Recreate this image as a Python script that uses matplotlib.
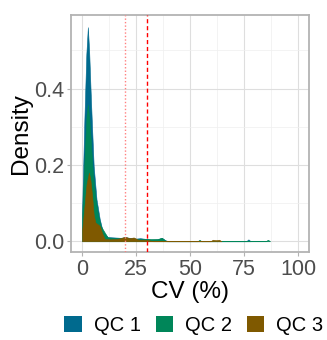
import matplotlib
matplotlib.use("Agg")
import matplotlib.pyplot as plt
from matplotlib.patches import Patch
from matplotlib.ticker import MultipleLocator

# ---- data ----
qc1_x = [0.2, 1.2, 2.1, 2.8, 3.4, 4.0, 4.6, 5.5, 6.8, 8.3, 9.8, 12, 15, 18, 20, 22, 25, 27, 30, 32, 35, 37, 38.5, 40,
         76, 77, 78]
qc1_y = [0.092, 0.319, 0.49, 0.561, 0.50, 0.406, 0.319, 0.197, 0.11, 0.058, 0.023, 0.011, 0.010, 0.009, 0.011, 0.009,
         0.007, 0.008, 0.006, 0.004, 0.005, 0.009, 0.003, 0.0,
         0.0, 0.005, 0.0]
qc2_x = [0.2, 1.4, 2.2, 2.8, 3.5, 4.2, 4.9, 5.6, 6.4, 7.5, 8.8, 10.6, 12, 15, 20, 25, 30, 35, 37, 39,
         53.5, 54.4, 55.3, 85, 86, 87]
qc2_y = [0.07, 0.232, 0.33, 0.358, 0.32, 0.26, 0.197, 0.15, 0.11, 0.07, 0.04, 0.023, 0.010, 0.008, 0.008, 0.005,
         0.006, 0.006, 0.009, 0.0,
         0.0, 0.004, 0.0, 0.0, 0.004, 0.0]
qc3_x = [0.2, 1.2, 2.2, 3.3, 4.0, 4.8, 5.5, 6.3, 7.5, 8.3, 9.5, 10.6, 13, 16, 18, 20, 22, 24, 26, 30, 33,
         59.5, 60.5, 62, 63.5, 64.5]
qc3_y = [0.03, 0.09, 0.15, 0.18, 0.16, 0.118, 0.07, 0.049, 0.044, 0.04, 0.02, 0.006, 0.005, 0.006, 0.008, 0.012,
         0.008, 0.010, 0.004, 0.004, 0.0,
         0.0, 0.004, 0.003, 0.004, 0.0]
labels = ["QC 1", "QC 2", "QC 3"]
colors = ["#006A8E", "#008659", "#7F5900"]
thresholds = [20, 30]

plt.rcParams['font.family'] = ['Liberation Sans', 'DejaVu Sans']

fig = plt.figure(figsize=(3.27, 3.40), dpi=100)
ax = fig.add_axes([0.217, 0.259, 0.728, 0.697])

for xs, ys, c in zip([qc1_x, qc2_x, qc3_x], [qc1_y, qc2_y, qc3_y], colors):
    ax.fill_between(xs, 0, ys, color=c, lw=0.4, edgecolor=c, zorder=3)

ax.axvline(thresholds[0], color="#FF8080", ls=(0, (1, 1.5)), lw=1.0, zorder=4)
ax.axvline(thresholds[1], color="#FF0000", ls=(0, (3, 2)), lw=1.0, zorder=4)

ax.set_xlim(-5, 105)
ax.set_ylim(-0.028, 0.593)
ax.set_xticks([0, 25, 50, 75, 100])
ax.set_yticks([0.0, 0.2, 0.4])
ax.set_yticklabels(["0.0", "0.2", "0.4"])
ax.xaxis.set_minor_locator(MultipleLocator(12.5))
ax.yaxis.set_minor_locator(MultipleLocator(0.1))
ax.grid(True, which="major", color="#DEDEDE", lw=0.8, zorder=0)
ax.grid(True, which="minor", color="#EFEFEF", lw=0.5, zorder=0)
ax.set_axisbelow(True)
for s in ax.spines.values():
    s.set_color("#B3B3B3")
    s.set_linewidth(1.3)
ax.tick_params(which="major", length=3, color="#B3B3B3", labelsize=15.5, labelcolor="#4D4D4D", pad=2)
ax.tick_params(which="minor", length=0)
ax.set_xlabel("CV (%)", fontsize=17.5, labelpad=1)
ax.set_ylabel("Density", fontsize=17.5, labelpad=1)

handles = [Patch(facecolor=c, edgecolor="none") for c in colors]
fig.legend(handles, labels, loc="center", bbox_to_anchor=(0.593, 0.043), ncol=3, frameon=False,
           fontsize=14.5, handlelength=0.85, handleheight=0.85, columnspacing=0.75, handletextpad=0.6,
           borderpad=0.1)

fig.savefig("out.png", dpi=100)
